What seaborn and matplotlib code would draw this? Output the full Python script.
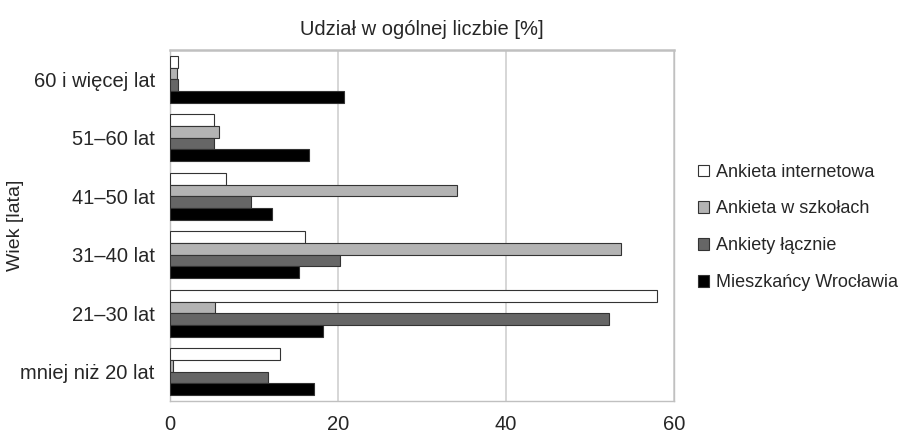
import pandas as pd
import seaborn as sns
import matplotlib.pyplot as plt
from matplotlib.patches import Patch

# DATA
categories = ['60 i więcej lat', '51–60 lat', '41–50 lat', '31–40 lat', '21–30 lat', 'mniej niż 20 lat']
series = ['Ankieta internetowa', 'Ankieta w szkołach', 'Ankiety łącznie', 'Mieszkańcy Wrocławia']
internet = [0.9, 5.2, 6.7, 16.1, 58.0, 13.1]
schools = [0.8, 5.8, 34.2, 53.7, 5.3, 0.3]
combined = [0.9, 5.2, 9.6, 20.2, 52.3, 11.7]
wroclaw = [20.7, 16.5, 12.1, 15.3, 18.2, 17.1]
colors = ['#ffffff', '#b3b3b3', '#666666', '#000000']

rows = []
for name, vals in zip(series, [internet, schools, combined, wroclaw]):
    for cat, v in zip(categories, vals):
        rows.append({'wiek': cat, 'seria': name, 'udzial': v})
df = pd.DataFrame(rows)

# STYLE
sns.set_style('white')
plt.rcParams['font.family'] = ['Liberation Sans', 'DejaVu Sans']

fig = plt.figure(figsize=(9.03, 4.34), dpi=100)
ax = fig.add_axes([0.1883, 0.076, 0.5581, 0.8088])

sns.barplot(data=df, x='udzial', y='wiek', hue='seria', order=categories,
            hue_order=series, palette=colors, orient='h', width=0.8,
            edgecolor='#333333', linewidth=0.8, ax=ax, legend=False, zorder=3)

ax.set_xlim(0, 60)
ax.set_xticks([0, 20, 40, 60])
ax.grid(axis='x', color='#d0d0d0', linewidth=1.2, zorder=0)
ax.set_axisbelow(True)
ax.set_title('Udział w ogólnej liczbie [%]', fontsize=14.5, pad=11)
ax.set_xlabel('')
ax.set_ylabel('Wiek [lata]', fontsize=14)
ax.yaxis.set_label_coords(-0.29, 0.5)
ax.tick_params(axis='x', labelsize=14.5, length=0, pad=10)
ax.tick_params(axis='y', labelsize=14.5, length=0, pad=11)

# category separator ticks on the left
ax.set_yticks([i + 0.5 for i in range(len(categories) - 1)], minor=True)
ax.tick_params(axis='y', which='minor', length=6, color='#bbbbbb', width=1)

for side in ['top', 'bottom', 'left', 'right']:
    ax.spines[side].set_visible(True)
    ax.spines[side].set_color('#c0c0c0')
    ax.spines[side].set_linewidth(1.0)
ax.spines['top'].set_linewidth(1.8)

handles = [Patch(facecolor=c, edgecolor='#333333', linewidth=0.8) for c in colors]
fig.legend(handles, series, loc='center left', bbox_to_anchor=(0.755, 0.476),
           frameon=False, fontsize=13, handlelength=0.6, handleheight=0.6,
           handletextpad=0.4, labelspacing=1.1)

fig.savefig('out.png', dpi=100)
